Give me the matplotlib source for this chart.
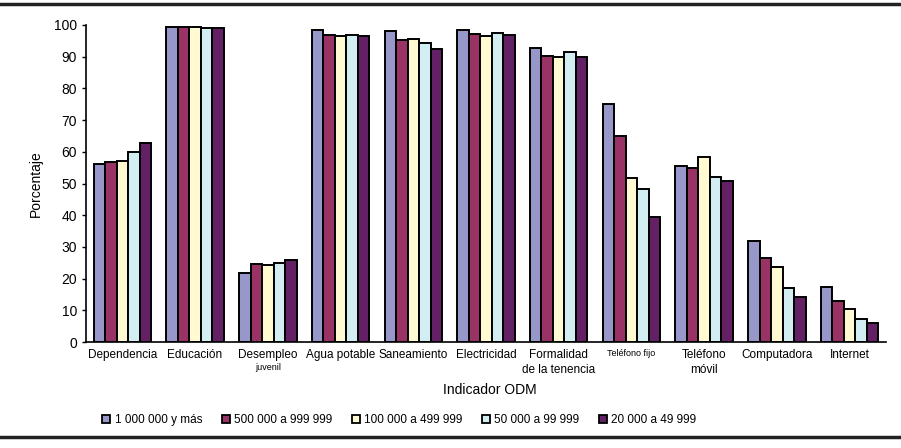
import numpy as np
import matplotlib.pyplot as plt
from matplotlib.lines import Line2D

categorias = ['Dependencia', 'Educación', 'Desempleo', 'Agua potable', 'Saneamiento',
              'Electricidad', 'Formalidad\nde la tenencia', 'Teléfono fijo',
              'Teléfono\nmóvil', 'Computadora', 'Internet']
series = ['1 000 000 y más', '500 000 a 999 999', '100 000 a 499 999',
          '50 000 a 99 999', '20 000 a 49 999']

v_1m = [56.0, 99.5, 21.9, 98.5, 98.2, 98.4, 92.7, 75.1, 55.6, 32.0, 17.4]
v_500k = [56.9, 99.5, 24.7, 97.0, 95.3, 97.3, 90.2, 65.1, 55.0, 26.6, 13.0]
v_100k = [57.1, 99.5, 24.4, 96.6, 95.6, 96.6, 89.8, 51.7, 58.5, 23.8, 10.5]
v_50k = [59.9, 99.2, 25.0, 97.0, 94.3, 97.5, 91.5, 48.3, 52.1, 17.1, 7.4]
v_20k = [62.9, 98.9, 25.9, 96.6, 92.4, 96.9, 89.9, 39.3, 50.9, 14.3, 6.1]
valores = [v_1m, v_500k, v_100k, v_50k, v_20k]

colores = ['#9797C9', '#993366', '#FFFAD2', '#D3EEF3', '#642065']

plt.rcParams['font.family'] = ['Liberation Sans', 'DejaVu Sans']

fig = plt.figure(figsize=(9.01, 4.48), dpi=100)
ax = fig.add_axes([0.0954, 0.2366, 0.888, 0.7076])

x = np.arange(len(categorias))
ancho = 0.158
for i, (vals, col) in enumerate(zip(valores, colores)):
    ax.bar(x + (i - 2) * ancho, vals, ancho, color=col, edgecolor='black',
           linewidth=1.4, label=series[i])

ax.set_xlim(-0.5, len(categorias) - 0.5)
ax.set_ylim(0, 100)
ax.set_yticks(range(0, 101, 10))
ax.tick_params(axis='y', labelsize=10, length=3, width=1)
ax.tick_params(axis='x', length=0, pad=5)
ax.set_xticks(x)
ax.set_xticklabels(categorias, fontsize=8.5, linespacing=1.3)
for lbl in ax.get_xticklabels():
    if lbl.get_text() == 'Teléfono fijo':
        lbl.set_fontsize(6.5)
ax.text(2, -7.9, 'juvenil', fontsize=6.5, ha='center', va='center',
        transform=ax.transData)
for s in ['top', 'right']:
    ax.spines[s].set_visible(False)
ax.spines['left'].set_linewidth(1.2)
ax.spines['bottom'].set_linewidth(1.2)

ax.set_ylabel('Porcentaje', fontsize=10, labelpad=8)
fig.text(0.544, 1 - 390 / 448, 'Indicador ODM', fontsize=10, ha='center', va='center')

handles = [Line2D([], [], marker='s', linestyle='none', markersize=6,
                  markerfacecolor=c, markeredgecolor='black', markeredgewidth=1.3)
           for c in colores]
fig.legend(handles, series, loc='center', bbox_to_anchor=(0.443, 1 - 420 / 448),
           ncol=5, frameon=False, fontsize=8.5, handlelength=0.8,
           handletextpad=0.3, columnspacing=1.6)

fig.add_artist(Line2D([0, 1], [1 - 4 / 448, 1 - 4 / 448], color='#222222', linewidth=2.5))
fig.add_artist(Line2D([0, 1], [1 - 437 / 448, 1 - 437 / 448], color='#222222', linewidth=2.5))

fig.savefig('out.png', dpi=100)
